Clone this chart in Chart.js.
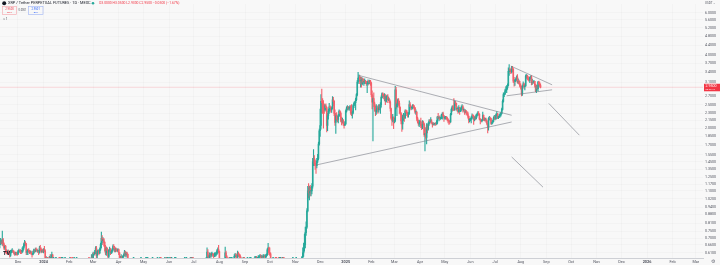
<!DOCTYPE html>
<html>
<head>
<meta charset="utf-8">
<script src="https://cdn.jsdelivr.net/npm/chart.js@4.4.1/dist/chart.umd.min.js"></script>
<style>
  html, body { margin: 0; padding: 0; background: #f8f8f8; }
  #wrap { width: 720px; height: 265px; }
</style>
</head>
<body>
<div id="wrap"><canvas id="c" width="720" height="265"></canvas></div>
<script>
  // XRP/USDT perp, MEXC, 1D — daily [high, low, close]; open = previous close
  const firstOpen = 0.668;

  const nov23 = [ // from Nov 9
    [0.690,0.640,0.675],[0.700,0.660,0.680],[0.690,0.665,0.670],[0.750,0.655,0.690],[0.700,0.650,0.665],
    [0.672,0.630,0.640],[0.655,0.630,0.650],[0.655,0.610,0.618],[0.630,0.605,0.615],[0.625,0.600,0.612],
    [0.628,0.605,0.620],[0.625,0.605,0.610],[0.615,0.585,0.595],[0.625,0.590,0.615],[0.628,0.610,0.620],
    [0.635,0.612,0.622],[0.626,0.612,0.618],[0.622,0.602,0.608],[0.612,0.595,0.602],[0.615,0.598,0.610],
    [0.614,0.598,0.604],[0.610,0.596,0.603],
  ];
  const dec23 = [
    [0.625,0.600,0.618],[0.632,0.612,0.625],[0.628,0.612,0.620],[0.630,0.605,0.618],[0.625,0.605,0.615],
    [0.640,0.610,0.625],[0.650,0.615,0.640],[0.670,0.630,0.660],[0.688,0.650,0.672],[0.680,0.655,0.665],
    [0.668,0.600,0.612],[0.628,0.600,0.620],[0.632,0.600,0.626],[0.635,0.612,0.620],[0.625,0.605,0.612],
    [0.622,0.608,0.615],[0.620,0.600,0.606],[0.610,0.585,0.600],[0.620,0.598,0.608],[0.632,0.605,0.622],
    [0.630,0.612,0.620],[0.638,0.615,0.630],[0.640,0.622,0.628],[0.634,0.615,0.620],[0.628,0.612,0.622],
    [0.625,0.600,0.612],[0.650,0.608,0.638],[0.655,0.622,0.632],[0.640,0.610,0.618],[0.630,0.612,0.622],
    [0.632,0.612,0.618],
  ];
  const jan24 = [
    [0.635,0.610,0.630],[0.650,0.618,0.620],[0.628,0.540,0.575],[0.590,0.565,0.580],[0.585,0.560,0.572],
    [0.578,0.560,0.570],[0.575,0.555,0.560],[0.590,0.540,0.582],[0.600,0.560,0.570],[0.600,0.545,0.585],
    [0.615,0.580,0.598],[0.602,0.560,0.568],[0.575,0.560,0.570],[0.572,0.560,0.562],[0.575,0.555,0.568],
    [0.580,0.562,0.570],[0.575,0.560,0.565],[0.568,0.545,0.550],[0.555,0.535,0.545],[0.548,0.538,0.542],
    [0.548,0.538,0.540],[0.542,0.515,0.520],[0.525,0.500,0.520],[0.528,0.512,0.520],[0.522,0.510,0.515],
    [0.535,0.512,0.530],[0.535,0.525,0.530],[0.535,0.518,0.522],[0.522,0.505,0.515],[0.522,0.505,0.508],
    [0.512,0.495,0.500],
  ];
  const feb24 = [
    [0.508,0.495,0.503],[0.510,0.498,0.505],[0.508,0.500,0.503],[0.505,0.495,0.497],[0.502,0.490,0.495],
    [0.505,0.493,0.500],[0.505,0.495,0.502],[0.512,0.500,0.508],[0.520,0.505,0.515],[0.520,0.510,0.515],
    [0.525,0.510,0.520],[0.530,0.505,0.525],[0.530,0.510,0.515],[0.540,0.510,0.535],[0.575,0.530,0.560],
    [0.568,0.548,0.555],[0.558,0.540,0.545],[0.555,0.540,0.550],[0.565,0.545,0.560],[0.560,0.535,0.552],
    [0.555,0.530,0.538],[0.550,0.532,0.545],[0.548,0.530,0.535],[0.545,0.532,0.540],[0.545,0.530,0.538],
    [0.560,0.530,0.555],[0.570,0.545,0.560],[0.600,0.550,0.585],[0.600,0.570,0.582],
  ];
  const mar24 = [
    [0.615,0.575,0.608],[0.612,0.595,0.605],[0.625,0.598,0.615],[0.648,0.605,0.638],[0.650,0.530,0.595],
    [0.625,0.580,0.618],[0.630,0.605,0.622],[0.625,0.598,0.610],[0.640,0.605,0.632],[0.670,0.625,0.660],
    [0.744,0.640,0.700],[0.720,0.660,0.685],[0.705,0.670,0.692],[0.700,0.650,0.675],[0.680,0.620,0.650],
    [0.655,0.600,0.610],[0.645,0.595,0.638],[0.640,0.610,0.625],[0.628,0.575,0.590],[0.630,0.570,0.625],
    [0.645,0.618,0.632],[0.635,0.600,0.610],[0.625,0.605,0.618],[0.635,0.610,0.628],[0.658,0.620,0.648],
    [0.660,0.635,0.640],[0.650,0.615,0.625],[0.640,0.615,0.632],[0.638,0.618,0.625],[0.632,0.618,0.622],
    [0.635,0.615,0.630],
  ];
  const apr24 = [
    [0.632,0.600,0.610],[0.612,0.570,0.582],[0.590,0.570,0.580],[0.600,0.575,0.590],[0.592,0.570,0.582],
    [0.595,0.578,0.590],[0.605,0.585,0.598],[0.625,0.595,0.615],[0.620,0.590,0.598],[0.615,0.585,0.610],
    [0.615,0.595,0.602],[0.605,0.500,0.520],[0.530,0.420,0.490],[0.505,0.460,0.500],[0.510,0.475,0.485],
    [0.500,0.470,0.495],[0.505,0.470,0.480],[0.510,0.470,0.505],[0.520,0.475,0.505],[0.530,0.500,0.520],
    [0.545,0.515,0.540],[0.555,0.530,0.550],[0.560,0.540,0.545],[0.555,0.530,0.535],[0.540,0.520,0.530],
    [0.535,0.515,0.520],[0.525,0.505,0.515],[0.525,0.510,0.515],[0.520,0.500,0.510],[0.515,0.480,0.495],
  ];
  const may24 = [
    [0.505,0.470,0.500],[0.515,0.495,0.510],[0.535,0.505,0.525],[0.535,0.518,0.525],[0.530,0.515,0.525],
    [0.540,0.518,0.525],[0.530,0.515,0.518],[0.522,0.505,0.512],[0.525,0.505,0.520],[0.525,0.500,0.505],
    [0.510,0.495,0.500],[0.508,0.495,0.502],[0.512,0.495,0.505],[0.510,0.495,0.500],[0.525,0.495,0.520],
    [0.525,0.508,0.512],[0.525,0.505,0.520],[0.525,0.515,0.520],[0.522,0.505,0.510],[0.540,0.505,0.535],
    [0.545,0.525,0.535],[0.538,0.522,0.532],[0.535,0.515,0.522],[0.532,0.518,0.528],[0.540,0.525,0.535],
    [0.538,0.525,0.530],[0.540,0.525,0.530],[0.530,0.515,0.520],[0.525,0.515,0.518],[0.525,0.510,0.520],
    [0.525,0.510,0.515],
  ];
  const jun24 = [
    [0.520,0.510,0.515],[0.520,0.510,0.512],[0.518,0.505,0.510],[0.515,0.505,0.510],[0.525,0.508,0.520],
    [0.522,0.505,0.510],[0.515,0.480,0.495],[0.500,0.490,0.495],[0.500,0.490,0.495],[0.500,0.480,0.490],
    [0.495,0.470,0.478],[0.495,0.475,0.485],[0.490,0.475,0.482],[0.490,0.470,0.485],[0.495,0.480,0.490],
    [0.495,0.480,0.485],[0.490,0.465,0.470],[0.485,0.460,0.475],[0.492,0.475,0.488],[0.495,0.480,0.488],
    [0.492,0.478,0.485],[0.490,0.480,0.485],[0.492,0.480,0.482],[0.485,0.465,0.475],[0.482,0.470,0.478],
    [0.482,0.470,0.475],[0.480,0.470,0.475],[0.480,0.470,0.474],[0.480,0.470,0.475],[0.480,0.470,0.474],
  ];
  const jul24 = [
    [0.485,0.470,0.478],[0.480,0.465,0.470],[0.470,0.440,0.448],[0.450,0.420,0.425],[0.430,0.380,0.415],
    [0.425,0.405,0.420],[0.425,0.405,0.410],[0.425,0.400,0.420],[0.445,0.415,0.435],[0.445,0.425,0.430],
    [0.445,0.425,0.440],[0.485,0.435,0.480],[0.530,0.475,0.525],[0.545,0.515,0.540],[0.560,0.520,0.545],
    [0.585,0.540,0.575],[0.640,0.565,0.615],[0.630,0.575,0.590],[0.595,0.560,0.578],[0.610,0.575,0.600],
    [0.608,0.585,0.598],[0.612,0.585,0.602],[0.615,0.592,0.605],[0.608,0.590,0.598],[0.605,0.580,0.595],
    [0.610,0.588,0.600],[0.612,0.590,0.602],[0.615,0.592,0.605],[0.630,0.600,0.622],[0.640,0.610,0.630],
    [0.655,0.610,0.618],
  ];
  const aug24 = [
    [0.620,0.565,0.572],[0.578,0.555,0.560],[0.568,0.540,0.548],[0.555,0.500,0.518],[0.525,0.430,0.500],
    [0.520,0.490,0.510],[0.570,0.500,0.560],[0.645,0.555,0.610],[0.620,0.575,0.588],[0.595,0.570,0.575],
    [0.580,0.550,0.555],[0.572,0.545,0.565],[0.575,0.555,0.562],[0.575,0.555,0.565],[0.570,0.550,0.558],
    [0.568,0.550,0.560],[0.575,0.555,0.570],[0.578,0.560,0.565],[0.600,0.560,0.590],[0.608,0.585,0.598],
    [0.605,0.582,0.595],[0.600,0.578,0.585],[0.620,0.580,0.608],[0.615,0.590,0.598],[0.605,0.585,0.595],
    [0.600,0.575,0.580],[0.588,0.565,0.575],[0.580,0.560,0.570],[0.575,0.560,0.565],[0.572,0.555,0.565],
    [0.570,0.560,0.562],
  ];
  const sep24 = [
    [0.565,0.545,0.555],[0.565,0.550,0.560],[0.570,0.550,0.555],[0.560,0.540,0.555],[0.560,0.540,0.545],
    [0.550,0.525,0.535],[0.545,0.530,0.538],[0.545,0.530,0.540],[0.560,0.535,0.555],[0.570,0.550,0.565],
    [0.575,0.550,0.570],[0.580,0.565,0.575],[0.590,0.568,0.582],[0.590,0.575,0.585],[0.590,0.570,0.578],
    [0.585,0.570,0.580],[0.595,0.575,0.585],[0.595,0.578,0.590],[0.600,0.580,0.590],[0.600,0.580,0.588],
    [0.595,0.582,0.590],[0.595,0.578,0.585],[0.600,0.580,0.590],[0.600,0.580,0.592],[0.598,0.580,0.588],
    [0.600,0.582,0.592],[0.605,0.585,0.598],[0.635,0.595,0.628],[0.668,0.620,0.640],[0.645,0.600,0.610],
  ];
  const oct24 = [
    [0.640,0.595,0.605],[0.610,0.505,0.530],[0.540,0.505,0.525],[0.535,0.515,0.530],[0.535,0.520,0.530],
    [0.540,0.525,0.535],[0.545,0.520,0.530],[0.535,0.520,0.528],[0.535,0.520,0.525],[0.535,0.515,0.530],
    [0.545,0.525,0.540],[0.545,0.530,0.538],[0.550,0.530,0.540],[0.545,0.530,0.540],[0.555,0.535,0.548],
    [0.555,0.540,0.545],[0.555,0.540,0.548],[0.555,0.540,0.545],[0.560,0.540,0.550],[0.555,0.540,0.545],
    [0.550,0.530,0.535],[0.540,0.520,0.528],[0.535,0.510,0.520],[0.525,0.505,0.515],[0.530,0.510,0.520],
    [0.525,0.505,0.510],[0.520,0.505,0.515],[0.525,0.510,0.518],[0.530,0.510,0.520],[0.525,0.510,0.515],
    [0.525,0.505,0.510],
  ];
  const nov24 = [
    [0.510,0.495,0.500],[0.505,0.495,0.500],[0.505,0.490,0.495],[0.505,0.490,0.500],[0.515,0.495,0.510],
    [0.560,0.505,0.540],[0.560,0.530,0.550],[0.570,0.545,0.560],[0.590,0.555,0.585],[0.640,0.575,0.610],
    [0.670,0.590,0.640],[0.730,0.620,0.660],[0.780,0.640,0.740],[0.820,0.720,0.780],[0.930,0.770,0.910],
    [1.150,0.900,1.100],[1.180,1.030,1.080],[1.150,1.010,1.130],[1.160,1.050,1.100],[1.140,1.050,1.100],
    [1.180,1.070,1.150],[1.500,1.130,1.450],[1.630,1.400,1.500],[1.540,1.400,1.430],[1.480,1.350,1.420],
    [1.460,1.300,1.400],[1.500,1.370,1.460],[1.560,1.440,1.500],[1.750,1.480,1.720],[1.980,1.700,1.950],
  ];
  const dec24 = [
    [2.400,1.850,2.050],[2.750,1.980,2.580],[2.900,2.300,2.550],[2.650,2.300,2.450],[2.600,2.000,2.400],
    [2.520,2.300,2.380],[2.500,2.350,2.470],[2.520,2.380,2.430],[2.450,1.930,2.050],[2.300,1.950,2.250],
    [2.400,2.180,2.350],[2.530,2.300,2.450],[2.480,2.350,2.430],[2.450,2.320,2.380],[2.450,2.320,2.420],
    [2.700,2.400,2.620],[2.680,2.480,2.580],[2.600,2.250,2.300],[2.380,2.050,2.110],[2.300,1.900,2.250],
    [2.320,2.150,2.180],[2.250,2.120,2.170],[2.280,2.100,2.250],[2.380,2.230,2.350],[2.360,2.250,2.300],
    [2.330,2.120,2.150],[2.220,2.060,2.130],[2.200,2.100,2.160],[2.170,2.050,2.080],[2.120,2.000,2.050],
    [2.130,2.050,2.080],
  ];
  const jan25 = [
    [2.380,2.070,2.350],[2.450,2.330,2.420],[2.480,2.380,2.450],[2.460,2.380,2.410],[2.450,2.370,2.430],
    [2.480,2.370,2.430],[2.480,2.280,2.310],[2.500,2.250,2.300],[2.350,2.200,2.320],[2.500,2.290,2.480],
    [2.560,2.430,2.530],[2.580,2.480,2.550],[2.660,2.380,2.620],[2.780,2.600,2.750],[3.150,2.720,3.100],
    [3.400,3.050,3.220],[3.320,3.150,3.250],[3.300,3.050,3.130],[3.250,2.950,3.130],[3.240,2.950,3.050],
    [3.230,3.020,3.180],[3.210,3.050,3.100],[3.180,3.000,3.100],[3.200,3.050,3.130],[3.150,3.050,3.100],
    [3.120,3.000,3.050],[3.100,2.800,3.050],[3.170,3.010,3.120],[3.150,3.030,3.100],[3.160,3.050,3.120],
    [3.150,3.000,3.060],
  ];
  const feb25 = [
    [3.090,2.700,2.750],[2.850,2.400,2.560],[2.720,1.770,2.650],[2.800,2.450,2.520],[2.560,2.350,2.400],
    [2.470,2.250,2.340],[2.500,2.280,2.380],[2.460,2.330,2.420],[2.480,2.300,2.380],[2.500,2.330,2.430],
    [2.500,2.380,2.420],[2.550,2.300,2.500],[2.720,2.440,2.680],[2.800,2.660,2.780],[2.800,2.680,2.720],
    [2.760,2.640,2.700],[2.780,2.600,2.740],[2.750,2.500,2.580],[2.720,2.560,2.700],[2.740,2.640,2.700],
    [2.750,2.550,2.620],[2.680,2.600,2.630],[2.650,2.540,2.560],[2.590,2.350,2.410],[2.420,2.170,2.200],
    [2.270,2.050,2.150],[2.280,2.120,2.220],[2.220,1.990,2.140],
  ];
  const mar25 = [
    [2.200,2.100,2.150],[2.980,2.120,2.880],[2.950,2.400,2.440],[2.560,2.250,2.520],[2.640,2.450,2.610],
    [2.650,2.480,2.530],[2.580,2.300,2.430],[2.450,2.280,2.310],[2.320,2.080,2.140],[2.280,1.940,2.080],
    [2.260,1.980,2.220],[2.300,2.150,2.250],[2.270,2.130,2.200],[2.380,2.200,2.350],[2.380,2.290,2.330],
    [2.370,2.250,2.300],[2.330,2.220,2.280],[2.320,2.220,2.300],[2.590,2.280,2.500],[2.550,2.400,2.450],
    [2.480,2.380,2.430],[2.450,2.390,2.430],[2.500,2.400,2.480],[2.500,2.420,2.450],[2.480,2.380,2.420],
    [2.440,2.300,2.330],[2.380,2.280,2.330],[2.340,2.150,2.200],[2.220,2.100,2.130],[2.160,2.050,2.090],
    [2.160,2.030,2.090],
  ];
  const apr25 = [
    [2.150,2.060,2.130],[2.200,2.010,2.040],[2.080,1.970,2.020],[2.150,1.990,2.120],[2.140,2.060,2.080],
    [2.100,1.850,1.880],[2.000,1.610,1.900],[2.010,1.800,1.830],[2.090,1.720,2.050],[2.070,1.910,1.980],
    [2.110,1.960,2.090],[2.170,2.050,2.140],[2.170,2.080,2.130],[2.210,2.110,2.140],[2.170,2.090,2.100],
    [2.110,2.020,2.070],[2.110,2.060,2.090],[2.100,2.050,2.080],[2.100,2.060,2.090],[2.110,2.050,2.080],
    [2.150,2.070,2.100],[2.240,2.080,2.220],[2.300,2.180,2.200],[2.240,2.140,2.200],[2.250,2.160,2.190],
    [2.220,2.170,2.210],[2.280,2.190,2.270],[2.320,2.180,2.290],[2.330,2.230,2.250],[2.260,2.130,2.200],
  ];
  const may25 = [
    [2.240,2.180,2.220],[2.240,2.180,2.220],[2.230,2.180,2.200],[2.220,2.140,2.170],[2.190,2.100,2.140],
    [2.150,2.070,2.130],[2.160,2.080,2.120],[2.300,2.110,2.280],[2.420,2.270,2.390],[2.470,2.350,2.450],
    [2.480,2.360,2.390],[2.650,2.360,2.380],[2.590,2.370,2.540],[2.580,2.480,2.530],[2.540,2.370,2.400],
    [2.450,2.350,2.400],[2.410,2.300,2.340],[2.480,2.320,2.430],[2.440,2.280,2.390],[2.420,2.340,2.390],
    [2.470,2.350,2.430],[2.500,2.400,2.450],[2.480,2.330,2.380],[2.420,2.350,2.380],[2.380,2.280,2.330],
    [2.380,2.310,2.340],[2.370,2.270,2.310],[2.340,2.260,2.290],[2.330,2.200,2.240],[2.250,2.100,2.160],
    [2.190,2.120,2.170],
  ];
  const jun25 = [
    [2.200,2.140,2.180],[2.230,2.100,2.200],[2.290,2.180,2.250],[2.280,2.220,2.240],[2.260,2.070,2.170],
    [2.230,2.140,2.200],[2.230,2.160,2.190],[2.280,2.180,2.260],[2.310,2.220,2.280],[2.340,2.250,2.300],
    [2.340,2.260,2.280],[2.290,2.160,2.180],[2.190,2.080,2.160],[2.170,2.120,2.140],[2.180,2.120,2.160],
    [2.330,2.150,2.260],[2.270,2.150,2.180],[2.210,2.140,2.170],[2.200,2.140,2.170],[2.200,2.110,2.140],
    [2.160,2.060,2.090],[2.100,1.910,2.020],[2.210,1.960,2.190],[2.240,2.160,2.200],[2.220,2.150,2.190],
    [2.200,2.070,2.090],[2.150,2.070,2.110],[2.160,2.090,2.130],[2.220,2.120,2.190],[2.260,2.170,2.240],
  ];
  const jul25 = [
    [2.250,2.160,2.190],[2.290,2.170,2.270],[2.340,2.250,2.290],[2.300,2.190,2.210],[2.240,2.190,2.230],
    [2.280,2.210,2.250],[2.300,2.220,2.270],[2.330,2.240,2.300],[2.420,2.290,2.390],[2.620,2.370,2.580],
    [2.800,2.560,2.750],[2.800,2.700,2.770],[2.900,2.750,2.850],[2.970,2.820,2.880],[3.000,2.800,2.940],
    [3.050,2.900,3.000],[3.550,2.990,3.430],[3.660,3.300,3.490],[3.540,3.380,3.460],[3.490,3.360,3.420],
    [3.600,3.380,3.550],[3.600,3.410,3.520],[3.520,3.080,3.130],[3.240,2.980,3.120],[3.180,3.000,3.150],
    [3.230,3.110,3.180],[3.290,3.150,3.250],[3.330,3.070,3.100],[3.200,3.050,3.120],[3.160,3.030,3.050],
    [3.120,2.950,2.980],
  ];
  const aug25 = [
    [3.050,2.900,2.950],[2.990,2.720,2.770],[3.000,2.730,2.970],[3.110,2.950,3.050],[3.070,2.920,2.970],
    [3.030,2.880,2.990],[3.320,2.980,3.280],[3.330,3.220,3.300],[3.310,3.180,3.220],[3.270,3.150,3.170],
    [3.260,3.120,3.150],[3.250,3.080,3.240],[3.290,3.200,3.260],[3.300,3.020,3.080],[3.190,3.030,3.100],
    [3.140,3.060,3.090],[3.150,3.070,3.120],[3.120,2.950,3.010],[3.040,2.830,2.850],[3.010,2.800,2.980],
    [3.000,2.870,2.910],[3.120,2.840,3.100],[3.130,3.000,3.040],[3.100,2.950,3.000],[3.050,2.930,2.950],
  ];

  const segments = [
    ["2023-11-09", nov23], ["2023-12-01", dec23], ["2024-01-01", jan24], ["2024-02-01", feb24],
    ["2024-03-01", mar24], ["2024-04-01", apr24], ["2024-05-01", may24], ["2024-06-01", jun24],
    ["2024-07-01", jul24], ["2024-08-01", aug24], ["2024-09-01", sep24], ["2024-10-01", oct24],
    ["2024-11-01", nov24], ["2024-12-01", dec24], ["2025-01-01", jan25], ["2025-02-01", feb25],
    ["2025-03-01", mar25], ["2025-04-01", apr25], ["2025-05-01", may25], ["2025-06-01", jun25],
    ["2025-07-01", jul25], ["2025-08-01", aug25],
  ];

  // user drawings: [date, price] end points
  const trendLines = [
    [["2025-01-17", 3.30], ["2025-07-21", 2.26]],
    [["2024-11-27", 1.41], ["2025-07-21", 2.12]],
    [["2025-07-20", 3.61], ["2025-09-08", 3.02]],
    [["2025-07-15", 2.72], ["2025-09-08", 2.88]],
    [["2025-09-04", 2.53], ["2025-10-11", 1.87]],
    [["2025-07-21", 1.52], ["2025-08-28", 1.14]],
  ];

  const priceTicks = [6.0, 5.6, 5.2, 4.8, 4.4, 4.0, 3.7, 3.4, 3.1, 2.7, 2.5, 2.3, 2.15, 2.0, 1.85,
    1.7, 1.55, 1.45, 1.35, 1.25, 1.17, 1.1, 1.02, 0.94, 0.88, 0.81, 0.75, 0.7, 0.66, 0.61];
  const monthLabels = ["Dec", "2024", "Feb", "Mar", "Apr", "May", "Jun", "Jul", "Aug", "Sep", "Oct", "Nov",
    "Dec", "2025", "Feb", "Mar", "Apr", "May", "Jun", "Jul", "Aug", "Sep", "Oct", "Nov", "Dec", "2026",
    "Feb", "Mar"];
  const xRange = [-21.8, 829.8]; // days from 2023-12-01
  const yRange = [0.581, 6.507];

  const UP = "#26a89a";
  const DOWN = "#f5606b";
  const GRID = "rgba(42,46,57,0.022)";
  const FONT = "Roboto, 'Noto Sans', sans-serif";

  const EPOCH = Date.UTC(2023, 11, 1);
  function dayIndex(s) {
    const [y, m, d] = s.split("-").map(Number);
    return (Date.UTC(y, m - 1, d) - EPOCH) / 864e5;
  }
  const monthTicks = monthLabels.map((_, i) => (Date.UTC(2023, 11 + i, 1) - EPOCH) / 864e5);

  const candles = [];
  let prevClose = firstOpen;
  segments.forEach(([start, rows]) => {
    const d0 = dayIndex(start);
    rows.forEach(([h, l, c], i) => {
      const o = prevClose;
      candles.push({ x: d0 + i, o, h: Math.max(h, o, c), l: Math.min(l, o, c), c });
      prevClose = c;
    });
  });
  const last = candles[candles.length - 1];
  const colors = candles.map((k) => (k.c >= k.o ? UP : DOWN));

  const datasets = [
    {
      label: "wicks",
      data: candles.map((k) => ({ x: k.x, y: [k.l, k.h] })),
      backgroundColor: colors,
      barThickness: 0.45,
      grouped: false,
      order: 2,
    },
    {
      label: "bodies",
      data: candles.map((k) => ({ x: k.x, y: [Math.min(k.o, k.c), Math.max(k.o, k.c)] })),
      backgroundColor: colors,
      barThickness: 0.9,
      minBarLength: 0.6,
      grouped: false,
      order: 1,
    },
    {
      type: "line",
      label: "price line",
      data: [{ x: xRange[0], y: last.c }, { x: xRange[1], y: last.c }],
      borderColor: "rgba(242,54,69,0.22)",
      borderWidth: 0.8,
      pointRadius: 0,
      order: 3,
    },
  ];
  trendLines.forEach((ln, i) => {
    datasets.push({
      type: "line",
      label: "trend " + i,
      data: ln.map(([d, p]) => ({ x: dayIndex(d), y: p })),
      borderColor: "rgba(120,123,134,0.8)",
      borderWidth: 0.75,
      pointRadius: 0,
      order: 0,
    });
  });

  function txt(ctx, s, x, y, size, color, weight, align) {
    ctx.font = (weight || "normal") + " " + size + "px " + FONT;
    ctx.fillStyle = color;
    ctx.textAlign = align || "left";
    ctx.textBaseline = "middle";
    ctx.fillText(s, x, y);
  }

  const overlay = {
    id: "overlay",
    afterDraw(chart) {
      const ctx = chart.ctx;
      const y = chart.scales.y;
      ctx.save();
      // legend header
      ctx.fillStyle = "#131722";
      ctx.beginPath();
      ctx.arc(4.2, 3.3, 2, 0, Math.PI * 2);
      ctx.fill();
      txt(ctx, "XRP / Tether PERPETUAL FUTURES · 1D · MEXC", 8, 3.5, 3.9, "#131722");
      ctx.fillStyle = UP;
      ctx.beginPath();
      ctx.arc(93, 3.3, 1.3, 0, Math.PI * 2);
      ctx.fill();
      const o = last.o.toFixed(4), h = last.h.toFixed(4), l = last.l.toFixed(4), c = last.c.toFixed(4);
      const ch = last.c - last.o;
      txt(ctx, `O${o} H${h} L${l} C${c} ${ch.toFixed(4).replace("-", "−")} (${((ch / last.o) * 100).toFixed(2).replace("-", "−")}%)`,
        99, 3.5, 3.4, "#f23645");
      // sell / buy boxes
      ctx.lineWidth = 0.6;
      ctx.strokeStyle = "#f5a3aa";
      ctx.strokeRect(2.5, 6.5, 14, 8);
      txt(ctx, c, 9.5, 9, 2.8, "#f23645", "normal", "center");
      txt(ctx, "SELL", 9.5, 12.4, 2.2, "#f23645", "normal", "center");
      txt(ctx, "0.0001", 22.5, 10.5, 2.6, "#50535e", "normal", "center");
      ctx.strokeStyle = "#9db3f5";
      ctx.strokeRect(28.5, 6.5, 14.5, 8);
      txt(ctx, (last.c + 0.0001).toFixed(4), 35.7, 9, 2.8, "#2962ff", "normal", "center");
      txt(ctx, "BUY", 35.7, 12.4, 2.2, "#2962ff", "normal", "center");
      txt(ctx, "∨ 1", 3, 19, 3.4, "#50535e");
      // price scale header & settings
      txt(ctx, "USDT ⌄", 705, 3, 3, "#50535e");
      txt(ctx, "⚙", 713, 262, 5, "#6a6d78", "normal", "center");
      // logo
      txt(ctx, "TV", 3, 253.8, 5.5, "#131722", "bold");
      // last price label
      const py = y.getPixelForValue(last.c);
      ctx.fillStyle = last.c >= last.o ? UP : "#f23645";
      ctx.fillRect(704, py - 3.5, 16, 7.5);
      txt(ctx, c, 705.5, py - 1, 3.6, "#ffffff");
      txt(ctx, "05:32:18", 705.5, py + 2.2, 2.4, "rgba(255,255,255,0.85)");
      ctx.restore();
    },
  };

  new Chart(document.getElementById("c"), {
    type: "bar",
    data: { datasets },
    options: {
      responsive: false,
      animation: false,
      events: [],
      layout: { padding: 0 },
      plugins: { legend: { display: false }, tooltip: { enabled: false } },
      scales: {
        x: {
          type: "linear",
          min: xRange[0],
          max: xRange[1],
          offset: false,
          bounds: "data",
          grid: { offset: false, color: GRID, drawTicks: false },
          border: { color: "#c3c5cb", width: 0.8 },
          ticks: {
            autoSkip: false,
            maxRotation: 0,
            padding: 1.6,
            color: "#50535e",
            font: (ctx) => ({
              size: 3.8,
              family: FONT,
              weight: /^\d{4}$/.test(monthLabels[ctx.index] || "") ? "bold" : "normal",
            }),
            callback: (v, i) => monthLabels[i],
          },
          afterBuildTicks: (s) => {
            s.ticks = monthTicks.map((v) => ({ value: v }));
          },
          afterFit: (s) => {
            s.height = 7;
          },
        },
        y: {
          type: "logarithmic",
          position: "right",
          min: yRange[0],
          max: yRange[1],
          bounds: "data",
          grid: { color: GRID, drawTicks: false },
          border: { display: false },
          ticks: {
            autoSkip: false,
            padding: 2,
            color: "#50535e",
            font: { size: 3.6, family: FONT },
            callback: (v) => Number(v).toFixed(4),
          },
          afterBuildTicks: (s) => {
            s.ticks = priceTicks.map((v) => ({ value: v }));
          },
          afterFit: (s) => {
            s.width = 17;
          },
        },
      },
    },
    plugins: [overlay],
  });
</script>
</body>
</html>
